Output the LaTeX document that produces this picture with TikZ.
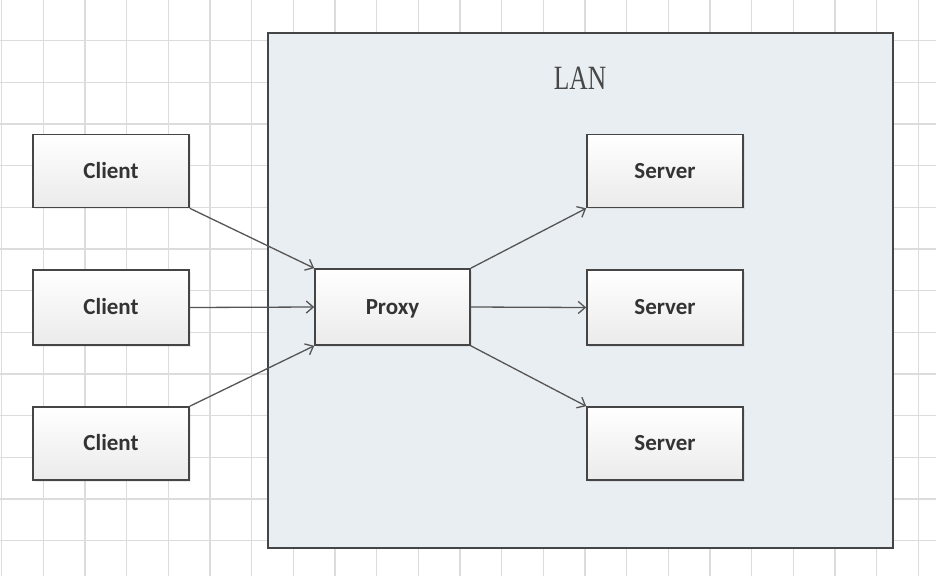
\documentclass[tikz,border=0pt]{standalone}
\usepackage{fontspec}
\setmainfont{Liberation Serif}
\newfontfamily\boxfont{Carlito}
\usetikzlibrary{arrows.meta,shadows}
\definecolor{gridc}{HTML}{DCDCDC}
\definecolor{lanfill}{HTML}{E9EEF3}
\definecolor{edgec}{HTML}{454545}
\definecolor{linkc}{HTML}{555555}
\begin{document}
\begin{tikzpicture}[x=1pt,y=-1pt,
  box/.style={draw=edgec, line width=1.6pt, top color=white, bottom color=black!8,
    minimum width=156pt, minimum height=73pt, inner sep=0pt,
    text height=14.8pt, text depth=0pt,
    font=\boxfont\bfseries\fontsize{23}{26}\selectfont, text=black!80,
    drop shadow={shadow xshift=1.5pt, shadow yshift=-1.5pt, opacity=0.15}},
  link/.style={draw=linkc, line width=1.3pt, -{Straight Barb[length=7pt,width=12pt]}},
  lanbox/.style={draw=edgec, line width=2pt, fill=lanfill},
  gridline/.style={draw=gridc, line width=1.2pt}
]
\useasboundingbox (0,0) rectangle (936,576);
\fill[white] (0,0) rectangle (936,576);
% grid
\foreach \i in {0,...,22} {\draw[gridline] ({1.67+41.67*\i},0) -- ({1.67+41.67*\i},576);}
\foreach \j in {1,...,13} {\draw[gridline] (0,{-1+41.67*\j}) -- (936,{-1+41.67*\j});}
% LAN
\draw[lanbox] (268.3,32.7) rectangle (893.3,548.3);
\node[text=black!72, inner sep=0pt] (lan) at (580,78) {\scalebox{0.75}[1]{\fontsize{34}{40}\selectfont LAN}};
% nodes
\node[box] (c1) at (111,171) {Client};
\node[box, minimum height=75pt] (c2) at (111,307.5) {Client};
\node[box] (c3) at (111,443.5) {Client};
\node[box, minimum width=155pt, minimum height=76pt] (proxy) at (392.5,307) {Proxy};
\node[box] (s1) at (665,171) {Server};
\node[box, minimum height=75pt] (s2) at (665,307.5) {Server};
\node[box] (s3) at (665,443.5) {Server};
% links
\draw[link] (c1.south east) -- (proxy.north west);
\draw[link] (c2.east) -- (proxy.west);
\draw[link] (c3.north east) -- (proxy.south west);
\draw[link] (proxy.north east) -- (s1.south west);
\draw[link] (proxy.east) -- (s2.west);
\draw[link] (proxy.south east) -- (s3.north west);
\end{tikzpicture}
\end{document}
